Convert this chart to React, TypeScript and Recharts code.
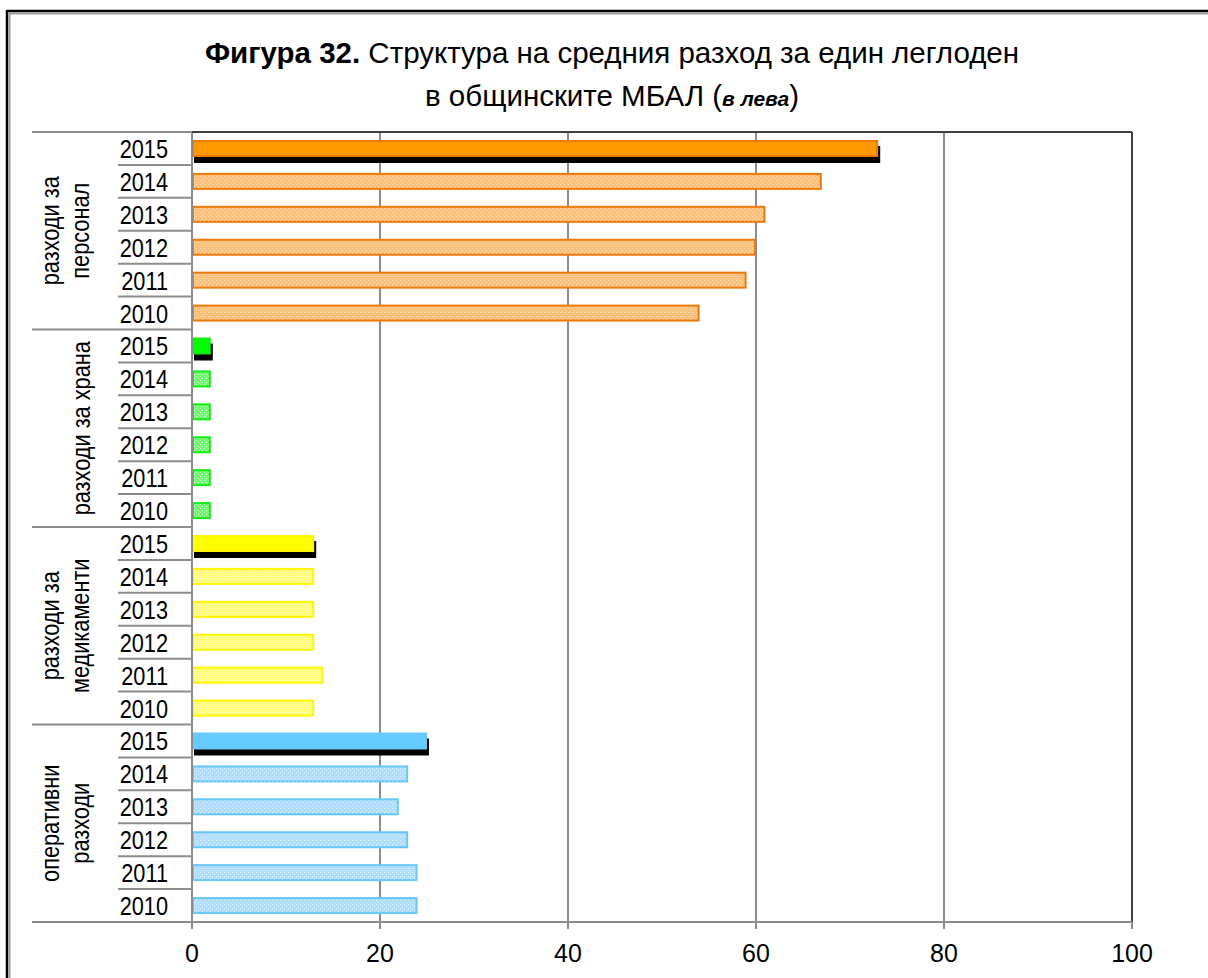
import { BarChart, Bar, XAxis, YAxis, CartesianGrid, ReferenceLine } from "recharts";

// categories
const years = ["2015", "2014", "2013", "2012", "2011", "2010"];
const groupLabels = [
  ["разходи за", "персонал"],
  ["разходи за храна"],
  ["разходи за", "медикаменти"],
  ["оперативни", "разходи"],
];

// values per group, in the order of `years`
const personnel = [73, 67, 61, 60, 59, 54];
const food = [2, 2, 2, 2, 2, 2];
const medicines = [13, 13, 13, 13, 14, 13];
const operating = [25, 23, 22, 23, 24, 24];

const xTicks = [0, 20, 40, 60, 80, 100];

const series = [personnel, food, medicines, operating];

const rows = series.flatMap((vals, g) =>
  years.map((year, i) => ({ id: `${g}-${year}`, group: g, year, yi: i, value: vals[i] }))
);

// palette: solid (2015) fill, border, patterned fill base and dot
const palette = [
  { solid: "#FF9900", border: "#EE7A0C", base: "#FDBF73", dot: "#FFE3BF" },
  { solid: "#00FF00", border: "#10EE10", base: "#70FA70", dot: "#D0FFD0" },
  { solid: "#FFFF00", border: "#FFF500", base: "#FFFF70", dot: "#FFFFD0" },
  { solid: "#66CCFF", border: "#66C8FA", base: "#ADDEFF", dot: "#E6F6FF" },
];

const W = 1208;
const H = 978;
const PLOT_LEFT = 192;
const PLOT_RIGHT = 1132;
const PLOT_TOP = 132;
const PLOT_BOTTOM = 922;
const BAND = (PLOT_BOTTOM - PLOT_TOP) / rows.length;
const SANS = "'Liberation Sans', Arial, sans-serif";
const NARROW_SCALE = 0.82;

function CategoryTick(props: any) {
  const { y, index } = props;
  const row = rows[index];
  if (!row) return null;
  const lastInGroup = row.yi === years.length - 1;
  const lines = groupLabels[row.group];
  return (
    <g>
      {index === 0 && (
        <>
          <line x1={32} x2={PLOT_LEFT} y1={y - BAND / 2} y2={y - BAND / 2} stroke="#8c8c8c" strokeWidth={2} />
          <line x1={PLOT_LEFT} x2={PLOT_RIGHT} y1={y - BAND / 2} y2={y - BAND / 2} stroke="#404040" strokeWidth={2} />
        </>
      )}
      <text
        transform={`translate(168,${y + 9.5}) scale(${NARROW_SCALE},1)`}
        textAnchor="end"
        fontSize={26.5}
        fontFamily={SANS}
        fill="#000"
      >
        {row.year}
      </text>
      <line
        x1={lastInGroup ? 32 : 118}
        x2={PLOT_LEFT}
        y1={y + BAND / 2}
        y2={y + BAND / 2}
        stroke="#8c8c8c"
        strokeWidth={2}
      />
      {row.yi === 2 &&
        lines.map((t, k) => {
          const bx = lines.length === 1 ? 90 : k === 0 ? 59 : 89;
          return (
            <text
              key={k}
              transform={`translate(${bx},${y + BAND / 2}) rotate(-90) scale(${NARROW_SCALE},1)`}
              textAnchor="middle"
              fontSize={26.5}
              fontFamily={SANS}
              fill="#000"
            >
              {t}
            </text>
          );
        })}
    </g>
  );
}

function BarShape(props: any) {
  const { x, y, width, height, payload } = props;
  if (width == null || width <= 0) return null;
  const c = palette[payload.group];
  const solid = payload.yi === 0;
  return (
    <g>
      {solid && <rect x={x + 2} y={y + 6} width={width} height={height} fill="#000" />}
      <rect
        x={x + 1}
        y={y + 1}
        width={Math.max(width - 2, 0)}
        height={height - 2}
        fill={solid ? c.solid : `url(#pat-${payload.group})`}
        stroke={c.border}
        strokeWidth={2}
      />
    </g>
  );
}

export default function App() {
  return (
    <div style={{ position: "absolute", left: 0, top: 0, width: W, height: H, background: "#fff", overflow: "hidden" }}>
      <svg width={0} height={0} style={{ position: "absolute" }}>
        <defs>
          {palette.map((c, g) => (
            <pattern key={g} id={`pat-${g}`} width={4} height={4} patternUnits="userSpaceOnUse">
              <rect width={4} height={4} fill={c.base} />
              <rect x={0} y={0} width={1} height={1} fill={c.dot} />
              <rect x={2} y={2} width={1} height={1} fill={c.dot} />
            </pattern>
          ))}
        </defs>
      </svg>
      <BarChart
        width={W}
        height={H}
        data={rows}
        layout="vertical"
        margin={{ top: PLOT_TOP, right: W - PLOT_RIGHT, bottom: 0, left: 0 }}
        barCategoryGap={0}
      >
        <CartesianGrid horizontal={false} stroke="#8c8c8c" strokeWidth={2} />
        <XAxis
          type="number"
          domain={[0, 100]}
          ticks={xTicks}
          height={H - PLOT_BOTTOM}
          axisLine={{ stroke: "#8c8c8c", strokeWidth: 2 }}
          tickLine={{ stroke: "#8c8c8c", strokeWidth: 2 }}
          tickSize={7}
          tickMargin={15}
          tick={{ fontSize: 25, fill: "#000", fontFamily: SANS }}
        />
        <YAxis
          type="category"
          dataKey="id"
          width={PLOT_LEFT}
          interval={0}
          tickLine={false}
          axisLine={{ stroke: "#8c8c8c", strokeWidth: 2 }}
          tick={(p: any) => <CategoryTick {...p} />}
        />
        <ReferenceLine x={100} stroke="#404040" strokeWidth={2} />
        <Bar dataKey="value" barSize={17} isAnimationActive={false} shape={(p: any) => <BarShape {...p} />} />
      </BarChart>
      <svg width={W} height={H} style={{ position: "absolute", left: 0, top: 0, pointerEvents: "none" }}>
        <rect x={W - 10} y={16} width={10} height={H - 16} fill="#fff" />
        <line x1={7} x2={W} y1={11} y2={11} stroke="#000" strokeWidth={2.5} />
        <line x1={9} x2={W} y1={13.5} y2={13.5} stroke="#9a9a9a" strokeWidth={2} />
        <line x1={7} x2={7} y1={10} y2={H} stroke="#000" strokeWidth={2.5} />
        <line x1={9.5} x2={9.5} y1={12.5} y2={H} stroke="#9a9a9a" strokeWidth={2} />
        <text x={612} y={63} textAnchor="middle" fontSize={29.5} fontFamily={SANS} fill="#000">
          <tspan fontWeight="bold">Фигура 32.</tspan>
          {" Структура на средния разход за един леглоден"}
        </text>
        <text x={612} y={106} textAnchor="middle" fontSize={29.5} fontFamily={SANS} fill="#000">
          {"в общинските МБАЛ ("}
          <tspan fontStyle="italic" fontWeight="bold" fontSize={21}>в лева</tspan>
          {")"}
        </text>
      </svg>
    </div>
  );
}
